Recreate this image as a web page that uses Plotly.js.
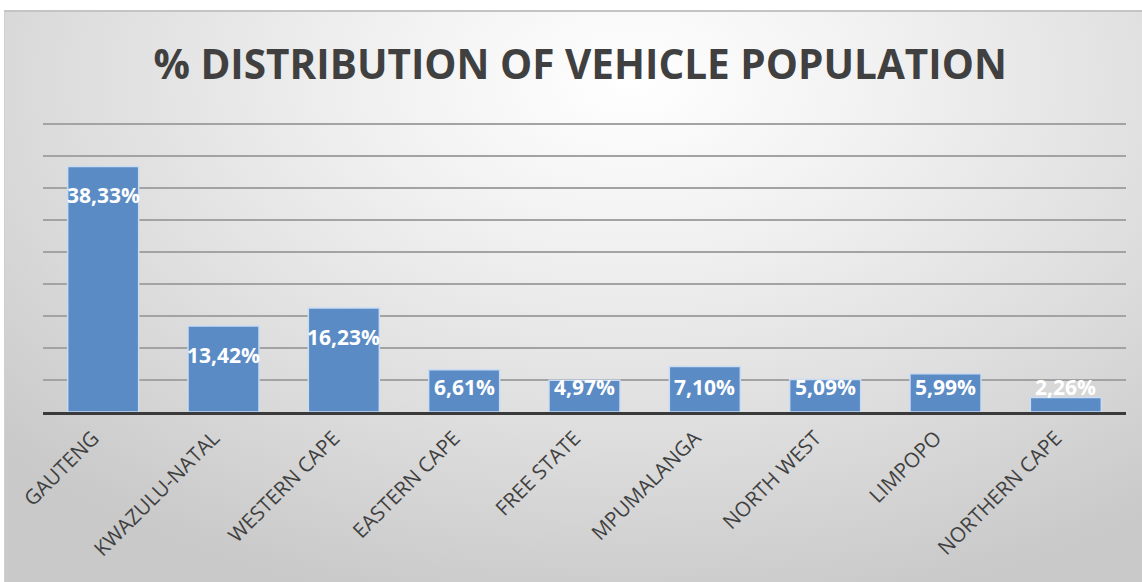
<!DOCTYPE html>
<html>
<head>
<meta charset="utf-8">
<script src="https://cdn.plot.ly/plotly-3.0.1.min.js"></script>
<style>
  html, body { margin:0; padding:0; background:#ffffff; width:1142px; height:582px; overflow:hidden; }
  #bg { position:absolute; left:4px; top:10px; width:1138px; height:572px; box-sizing:border-box;
        border-top:2px solid #c4c4c4; border-left:1px solid #d0d0d0;
        background: radial-gradient(ellipse 75% 95% at 55% 12%, #ffffff 0%, #f1f1f1 30%, #dedede 65%, #c9c9c9 100%); }
  #chart { position:absolute; left:0; top:0; width:1142px; height:582px; }
</style>
</head>
<body>
<div id="bg"></div>
<div id="chart"></div>
<script>
const categories = ['GAUTENG', 'KWAZULU-NATAL', 'WESTERN CAPE', 'EASTERN CAPE', 'FREE STATE',
                    'MPUMALANGA', 'NORTH WEST', 'LIMPOPO', 'NORTHERN CAPE'];
const shares = [38.33, 13.42, 16.23, 6.61, 4.97, 7.10, 5.09, 5.99, 2.26];
const titleText = '% DISTRIBUTION OF VEHICLE POPULATION';

const fmt = v => v.toFixed(2).replace('.', ',') + '%';

const trace = {
  type: 'bar',
  x: categories,
  y: shares,
  marker: { color: '#5b8bc5', line: { color: '#c9dcf2', width: 1.5 } },
  hoverinfo: 'x+y'
};

const annotations = categories.map((c, i) => ({
  x: c,
  y: Math.max(shares[i] - 4.5, 3.9),
  text: fmt(shares[i]),
  showarrow: false,
  xanchor: 'center',
  yanchor: 'middle',
  font: { family: 'Open Sans, sans-serif', size: 21, color: '#ffffff', weight: 700 }
}));

const layout = {
  width: 1142,
  height: 582,
  paper_bgcolor: 'rgba(0,0,0,0)',
  plot_bgcolor: 'rgba(0,0,0,0)',
  margin: { l: 43, r: 16, t: 122, b: 170 },
  title: {
    text: '<b>' + titleText + '</b>',
    x: 0.508, xanchor: 'center',
    y: 0.888, yanchor: 'middle',
    font: { family: 'Open Sans, sans-serif', size: 40.5, color: '#404040' }
  },
  bargap: 0.41,
  showlegend: false,
  xaxis: {
    type: 'category',
    tickangle: -45,
    ticklabelshift: -10,
    ticklabelstandoff: 3,
    tickfont: { family: 'Open Sans, sans-serif', size: 20.5, color: '#404040' },
    showline: true, linecolor: '#3a3a3a', linewidth: 3,
    ticks: '', showgrid: false, zeroline: false
  },
  yaxis: {
    range: [0, 45.3],
    dtick: 5,
    showticklabels: false,
    showgrid: true, gridcolor: '#a3a3a3', gridwidth: 1.5,
    zeroline: false, showline: false, ticks: ''
  },
  annotations: annotations
};

Plotly.newPlot('chart', [trace], layout, { displayModeBar: false, staticPlot: true });
</script>
</body>
</html>
